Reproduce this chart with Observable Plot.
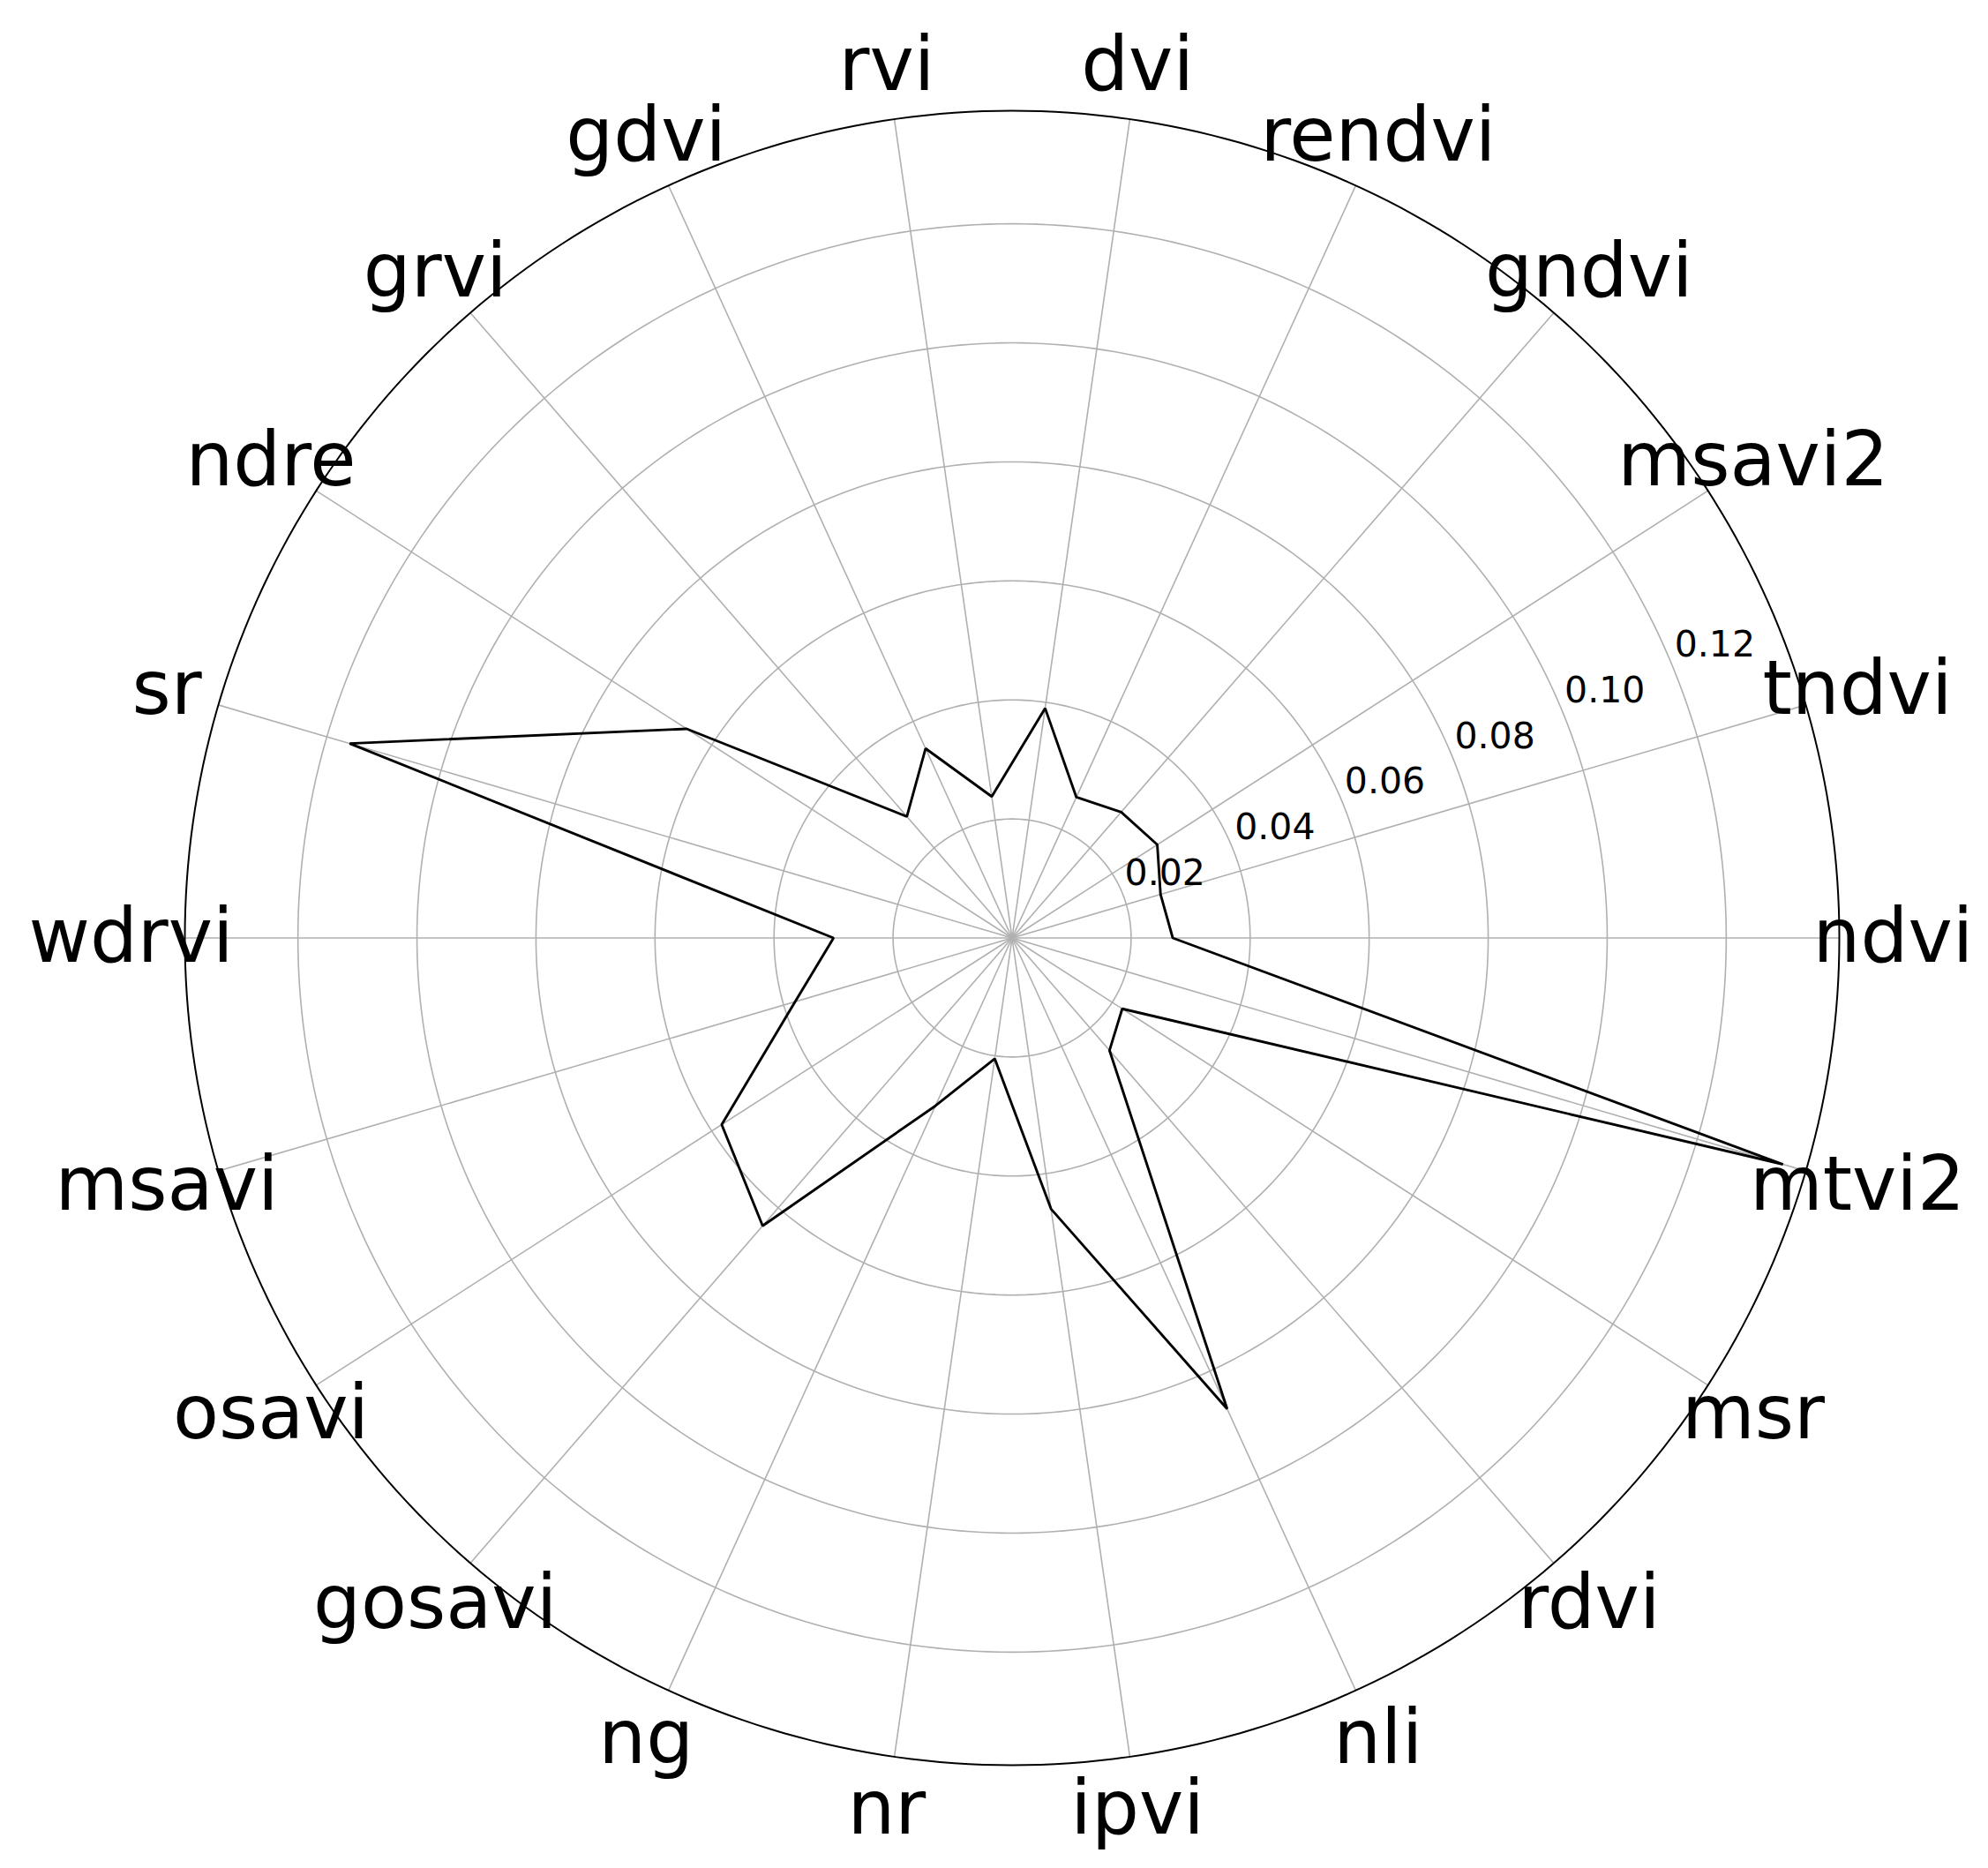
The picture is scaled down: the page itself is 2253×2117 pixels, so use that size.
<!DOCTYPE html>
<html>
<head>
<meta charset="utf-8">
<script src="https://cdn.jsdelivr.net/npm/d3@7"></script>
<script src="https://cdn.jsdelivr.net/npm/@observablehq/plot@0.6"></script>
<style>
  html, body { margin: 0; padding: 0; background: #ffffff; }
  #chart svg { display: block; }
</style>
</head>
<body>
<div id="chart"></div>
<script>
// ---- data ----
const categories = ["ndvi", "tndvi", "msavi2", "gndvi", "rendvi", "dvi", "rvi", "gdvi", "grvi", "ndre", "sr",
  "wdrvi", "msavi", "osavi", "gosavi", "ng", "nr", "ipvi", "nli", "rdvi", "msr", "mtvi2"];
const values = [0.027, 0.026, 0.029, 0.028, 0.026, 0.039, 0.024, 0.035, 0.027, 0.065, 0.116,
  0.030, 0.038, 0.058, 0.064, 0.031, 0.0205, 0.046, 0.087, 0.025, 0.022, 0.135];
const radialTicks = [0.02, 0.04, 0.06, 0.08, 0.10, 0.12];
const radialTickLabels = ["0.02", "0.04", "0.06", "0.08", "0.10", "0.12"];
const rMax = 0.139;          // outer edge of the polar axis
const rLabelAngleDeg = 22.5; // angle at which the radial tick labels sit

// ---- derived tables ----
const n = categories.length;
const theta = (i) => (2 * Math.PI * i) / n; // counter-clockwise from east
const rows = categories.map((c, i) => ({category: c, value: values[i], theta: theta(i)}));

const ringSteps = d3.range(0, 361, 1);
const circlePts = (r, key) => ringSteps.map((deg) => ({key, r, t: (deg * Math.PI) / 180}));
const ringPts = radialTicks.flatMap((r) => circlePts(r, r));
const spinePts = circlePts(rMax, "spine");

const la = (rLabelAngleDeg * Math.PI) / 180;
const tickRows = radialTicks.map((r, i) => ({r, t: la, label: radialTickLabels[i]}));

const labelR = rMax * 1.065;

const chart = Plot.plot({
  width: 2253,
  height: 2117,
  marginLeft: 209,
  marginRight: 169,
  marginTop: 125,
  marginBottom: 117,
  x: {domain: [-rMax, rMax], axis: null},
  y: {domain: [-rMax, rMax], axis: null},
  style: {fontFamily: "'DejaVu Sans', sans-serif", background: "#ffffff", color: "#000000"},
  marks: [
    // circular grid
    Plot.line(ringPts, {
      x: (d) => d.r * Math.cos(d.t),
      y: (d) => d.r * Math.sin(d.t),
      z: "key",
      stroke: "#b0b0b0",
      strokeWidth: 1.6,
      curve: "linear"
    }),
    // spokes
    Plot.link(rows, {
      x1: () => 0,
      y1: () => 0,
      x2: (d) => rMax * Math.cos(d.theta),
      y2: (d) => rMax * Math.sin(d.theta),
      stroke: "#b0b0b0",
      strokeWidth: 1.6
    }),
    // data polygon
    Plot.line(rows, {
      x: (d) => d.value * Math.cos(d.theta),
      y: (d) => d.value * Math.sin(d.theta),
      curve: "linear-closed",
      stroke: "#000000",
      strokeWidth: 2.9,
      strokeLinejoin: "miter"
    }),
    // outer spine
    Plot.line(spinePts, {
      x: (d) => d.r * Math.cos(d.t),
      y: (d) => d.r * Math.sin(d.t),
      stroke: "#000000",
      strokeWidth: 2
    }),
    // radial tick labels
    Plot.text(tickRows, {
      x: (d) => d.r * Math.cos(d.t),
      y: (d) => d.r * Math.sin(d.t),
      text: "label",
      textAnchor: "start",
      lineAnchor: "middle",
      dx: 3,
      dy: -22,
      fontSize: 41,
      fill: "#000000"
    }),
    // category labels
    Plot.text(rows, {
      x: (d) => labelR * Math.cos(d.theta),
      y: (d) => labelR * Math.sin(d.theta),
      text: "category",
      textAnchor: "middle",
      lineAnchor: "middle",
      fontSize: 85,
      fill: "#000000"
    })
  ]
});

document.getElementById("chart").appendChild(chart);
</script>
</body>
</html>
